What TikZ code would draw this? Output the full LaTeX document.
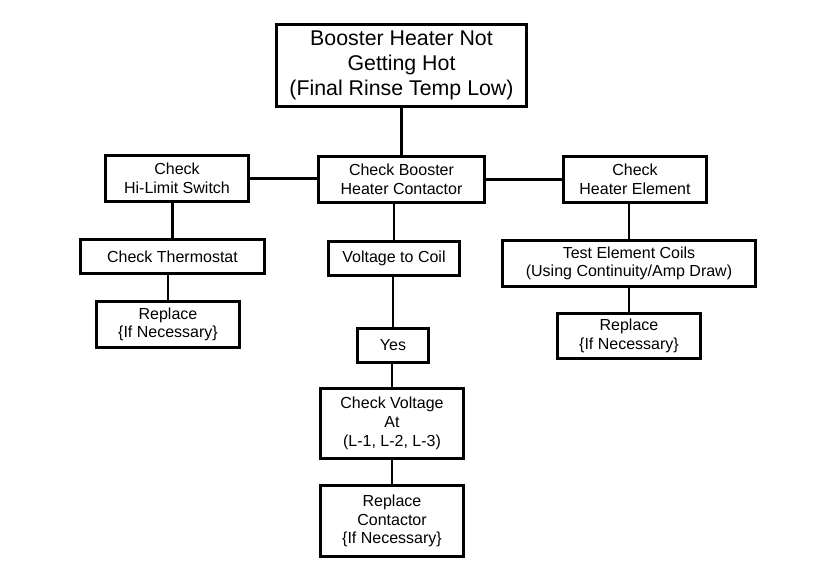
\documentclass[tikz,border=0pt]{standalone}
\usepackage{fontspec}
\setmainfont{Liberation Sans}
\begin{document}
\begin{tikzpicture}[x=0.75pt, y=-0.75pt,
		box/.style={rectangle, draw=black, line width=2.4pt, fill=white, align=center, inner sep=0pt,
			minimum width=107.25pt, minimum height=34.5pt, font=\fontsize{12}{14}\selectfont},
		lowbox/.style={box, minimum height=25.5pt},
		bigbox/.style={box, minimum width=187.5pt, minimum height=61.5pt, font=\fontsize{16}{18.75}\selectfont},
		link/.style={draw=black, line width=1.7pt},
		]
		\useasboundingbox (0,0) rectangle (814,573);

		% Blocks
		\node[bigbox] (problem) at (401.5,65.5) {Booster Heater Not\\Getting Hot\\(Final Rinse Temp Low)};
		\node[box] (hilimit) at (177,178.5) {Check\\Hi-Limit Switch};
		\node[box, minimum width=124.5pt] (contactor) at (401.5,179.5) {Check Booster\\Heater Contactor};
		\node[box] (element) at (635,179.5) {Check\\Heater Element};

		% Left branch
		\node[lowbox, minimum width=138pt] (thermostat) at (172.5,256.5) {Check Thermostat};
		\node[box] (replaceleft) at (168,324.5) {Replace\\\{If Necessary\}};

		% Middle branch
		\node[lowbox, minimum width=98.25pt] (voltage) at (394,258.5) {Voltage to Coil};
		\node[lowbox, minimum width=53.25pt] (yes) at (393,345.5) {Yes};
		\node[box, minimum height=52.5pt] (checkvolt) at (392,423.5) {Check Voltage\\At\\(L-1, L-2, L-3)};
		\node[box, minimum height=53.25pt] (replacecont) at (392,521) {Replace\\Contactor\\\{If Necessary\}};

		% Right branch
		\node[box, minimum width=189.75pt] (coils) at (629,263.5) {Test Element Coils\\(Using Continuity/Amp Draw)};
		\node[box, minimum height=33.75pt] (replaceright) at (629,336) {Replace\\\{If Necessary\}};

		% Connectors
		\draw[link] (problem.south) -- (contactor.north);
		\draw[link] (hilimit.east) -- (hilimit.east -| contactor.west);
		\draw[link] (contactor.east) -- (contactor.east -| element.west);
		\draw[link] (thermostat.north) -- (thermostat.north |- hilimit.south);
		\draw[link] (replaceleft.north) -- (replaceleft.north |- thermostat.south);
		\draw[link] (voltage.north) -- (voltage.north |- contactor.south);
		\draw[link] (yes.north) -- (yes.north |- voltage.south);
		\draw[link] (checkvolt.north) -- (checkvolt.north |- yes.south);
		\draw[link] (checkvolt.south) -- (replacecont.north);
		\draw[link] (coils.north) -- (coils.north |- element.south);
		\draw[link] (coils.south) -- (replaceright.north);
	\end{tikzpicture}
\end{document}
